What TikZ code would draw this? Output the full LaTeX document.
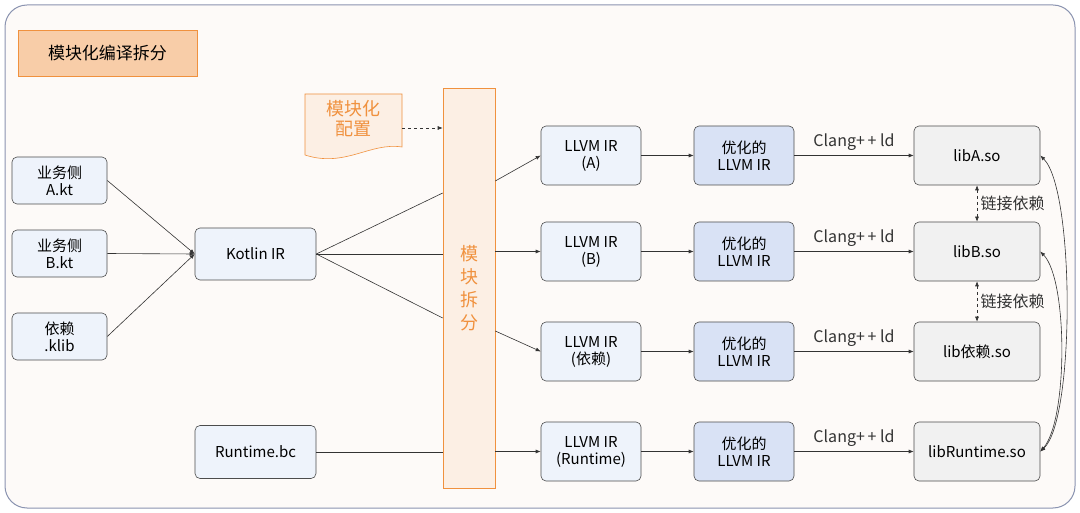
\documentclass[tikz,border=0pt]{standalone}
\usepackage{fontspec}
\setmainfont{Noto Sans CJK SC}
\usetikzlibrary{arrows.meta,positioning,calc}
\definecolor{frameC}{HTML}{8A93B0}
\definecolor{bgC}{HTML}{FDFAF8}
\definecolor{orangeC}{HTML}{F0913E}
\definecolor{peachC}{HTML}{FCEFE4}
\definecolor{irC}{HTML}{EEF3FB}
\definecolor{optC}{HTML}{D9E2F5}
\definecolor{libC}{HTML}{F1F1F1}
\tikzset{
  box/.style = {draw=black!70, rounded corners=5pt, fill=irC, align=center, inner sep=0pt, font=\fontsize{15}{17}\selectfont},
  optbox/.style = {box, fill=optC},
  libbox/.style = {box, fill=libC},
  Arrow/.style = {-{Latex[length=5pt,width=4pt]}, black!80},
  Line/.style = {black!80}
}
\begin{document}
\begin{tikzpicture}[x=1pt,y=-1pt, line width=0.6pt]
  \useasboundingbox (0,0) rectangle (1080,513);
  \draw[frameC, fill=bgC, rounded corners=22pt, line width=1pt] (5,5) rectangle (1075,508);
  \node[draw=orangeC, fill=orangeC!45, minimum width=179pt, minimum height=46pt, font=\fontsize{17}{19}\selectfont] (title) at (107.5,53) {模块化编译拆分};
  %%%%% config document %%%%%
  \draw[orangeC, fill=peachC] (305,94) -- (402,94) -- (402,147) .. controls (370,142) and (345,168) .. (305,155) -- cycle;
  \node[orangeC, align=center, font=\fontsize{18}{20}\selectfont] (cfg) at (353,119) {模块化\\配置};
  %%%%% split bar %%%%%
  \node[draw=orangeC, fill=peachC, minimum width=52pt, minimum height=400pt, inner sep=0pt] (split) at (469,288) {};
  \node[orangeC, align=center, font=\fontsize{18}{23}\selectfont] at (469,288) {模\\块\\拆\\分};
  \draw[Arrow, dashed] (402,128) -- (split.west |- 0,128);
  %%%%% inputs %%%%%
  \node[box, minimum width=95pt, minimum height=47pt] (a) at (59.5,180.5) {业务侧\\A.kt};
  \node[box, minimum width=95pt, minimum height=47pt] (b) at (59.5,253.5) {业务侧\\B.kt};
  \node[box, minimum width=95pt, minimum height=47pt] (k) at (59.5,336.5) {依赖\\.klib};
  \node[box, minimum width=121pt, minimum height=52pt] (kir) at (255.5,254) {Kotlin IR};
  \node[box, minimum width=121pt, minimum height=53pt] (rt) at (255.5,452) {Runtime.bc};
  \foreach \n in {a,b,k} \draw[Arrow] (\n.east) -- (kir.west);
  \draw[Line] (kir.east) -- (split.west |- 0,193);
  \draw[Line] (kir.east) -- (split.west |- 0,254);
  \draw[Line] (kir.east) -- (split.west |- 0,318);
  \draw[Line] (rt.east) -- (split.west |- rt.east);
  %%%%% per module chain %%%%%
  \foreach \nm/\y/\lab/\lib in {A/155.5/(A)/libA.so, B/251.5/(B)/libB.so, D/351.5/(依赖)/lib依赖.so, R/451.5/(Runtime)/libRuntime.so}{
    \node[box, minimum width=100pt, minimum height=59pt] (ir\nm) at (591,\y) {LLVM IR\\\lab};
    \node[optbox, minimum width=100pt, minimum height=59pt] (opt\nm) at (744,\y) {优化的\\LLVM IR};
    \node[libbox, minimum width=126pt, minimum height=59pt] (lib\nm) at (977,\y) {\lib};
    \draw[Arrow] (ir\nm) -- (opt\nm);
    \draw[Arrow] (opt\nm.east) -- node[above, font=\fontsize{16}{18}\selectfont, yshift=1pt] {Clang+\,+ ld} (lib\nm.west);
  }
  \draw[Arrow] (split.east |- 0,181) -- (irA.west);
  \draw[Arrow] (split.east |- irB.west) -- (irB.west);
  \draw[Arrow] (split.east |- 0,331) -- (irD.west);
  \draw[Arrow] (split.east |- irR.west) -- (irR.west);
  %%%%% link deps %%%%%
  \draw[{Latex[length=5pt,width=4pt]}-{Latex[length=5pt,width=4pt]}, dashed, black!80] (libA.south) -- node[right, font=\fontsize{16}{18}\selectfont] {链接依赖} (libB.north);
  \draw[{Latex[length=5pt,width=4pt]}-{Latex[length=5pt,width=4pt]}, dashed, black!80] (libB.south) -- node[right, font=\fontsize{16}{18}\selectfont] {链接依赖} (libD.north);
  \draw[Arrow, <->, >={Latex[length=5pt,width=4pt]}] (libR.east) .. controls (1075,420) and (1075,190) .. (libA.east);
  \draw[Arrow, <->, >={Latex[length=5pt,width=4pt]}] (libR.east) .. controls (1068,420) and (1068,280) .. (libB.east);
\end{tikzpicture}
\end{document}
